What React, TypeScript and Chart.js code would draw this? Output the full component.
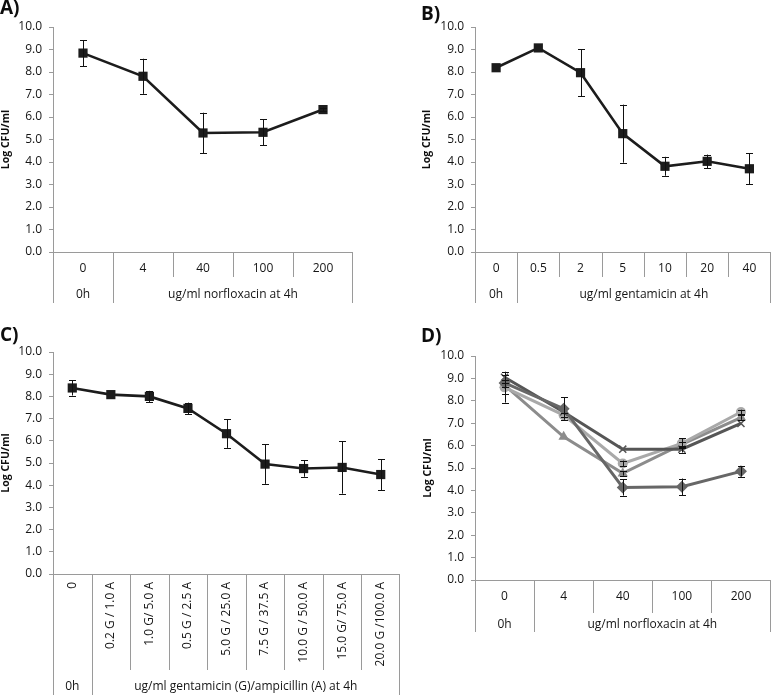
import React, { useEffect, useRef } from "react";
import { Chart, registerables } from "chart.js";
Chart.register(...registerables);

const W = 777;
const H = 695;
const FONT = "'Open Sans', 'DejaVu Sans', sans-serif";

// ---------- Data ----------
const catsA = ["0", "4", "40", "100", "200"];
const groupsA = ["0h", "ug/ml norfloxacin at 4h"];
const spansA = [1, 4];
const valsA = [8.84, 7.81, 5.29, 5.32, 6.33];
const errA = [0.58, 0.78, 0.9, 0.58, 0.08];

const catsB = ["0", "0.5", "2", "5", "10", "20", "40"];
const groupsB = ["0h", "ug/ml gentamicin at 4h"];
const spansB = [1, 6];
const valsB = [8.19, 9.07, 7.97, 5.26, 3.81, 4.03, 3.7];
const errB = [0.05, 0.05, 1.05, 1.29, 0.42, 0.3, 0.69];

const catsC = [
  "0",
  "0.2 G / 1.0 A",
  "1.0 G/ 5.0 A",
  "0.5 G / 2.5 A",
  "5.0 G / 25.0 A",
  "7.5 G / 37.5 A",
  "10.0 G / 50.0 A",
  "15.0 G/ 75.0 A",
  "20.0 G /100.0 A",
];
const groupsC = ["0h", "ug/ml gentamicin (G)/ampicillin (A) at 4h"];
const spansC = [1, 8];
const valsC = [8.38, 8.08, 8.0, 7.46, 6.32, 4.95, 4.75, 4.8, 4.48];
const errC = [0.34, 0.05, 0.25, 0.26, 0.64, 0.89, 0.37, 1.18, 0.7];

const catsD = ["0", "4", "40", "100", "200"];
const groupsD = ["0h", "ug/ml norfloxacin at 4h"];
const spansD = [1, 4];
const dDiamond = [8.8, 7.65, 4.13, 4.16, 4.85];
const dDiamondErr = [0.5, 0.5, 0.36, 0.37, 0.23];
const dCross = [9.05, 7.5, 5.84, 5.84, 6.99];
const dCrossErr = [0.1, 0.05, 0.05, 0.15, 0.05];
const dCircle = [8.6, 7.36, 5.2, 6.1, 7.5];
const dCircleErr = [0.68, 0.1, 0.13, 0.22, 0.1];
const dTri = [8.7, 6.39, 4.76, 6.05, 7.25];
const dTriErr = [0.1, 0.05, 0.1, 0.1, 0.1];

// ---------- Panel layout ----------
type Series = {
  values: number[];
  errors: number[];
  color: string;
  style: string;
  radius: number;
  lineWidth: number;
  pointBorder: number;
};
type Panel = {
  id: string;
  letter: string;
  letterX: number;
  letterY: number;
  cats: string[];
  groups: string[];
  spans: number[];
  series: Series[];
  axisX: number;
  titleLeft: number;
  top: number;
  right: number;
  bottom: number;
  row1Text: number;
  row1Line: number;
  row2Text: number;
  rowEnd: number;
  rotated: boolean;
};

const BLACK = "#1c1c1c";
const blackSeries = (values: number[], errors: number[]): Series => ({
  values,
  errors,
  color: BLACK,
  style: "rect",
  radius: 6.5,
  lineWidth: 2.6,
  pointBorder: 0,
});

const panels: Panel[] = [
  {
    id: "A", letter: "A)", letterX: 0, letterY: 9,
    cats: catsA, groups: groupsA, spans: spansA,
    series: [blackSeries(valsA, errA)],
    axisX: 53, titleLeft: 0, top: 27, right: 353, bottom: 252,
    row1Text: 17, row1Line: 25, row2Text: 43, rowEnd: 51, rotated: false,
  },
  {
    id: "B", letter: "B)", letterX: 421, letterY: 15,
    cats: catsB, groups: groupsB, spans: spansB,
    series: [blackSeries(valsB, errB)],
    axisX: 475, titleLeft: 421, top: 27, right: 776, bottom: 252,
    row1Text: 17, row1Line: 25, row2Text: 43, rowEnd: 51, rotated: false,
  },
  {
    id: "C", letter: "C)", letterX: 0, letterY: 336,
    cats: catsC, groups: groupsC, spans: spansC,
    series: [blackSeries(valsC, errC)],
    axisX: 53, titleLeft: 0, top: 352, right: 400, bottom: 574,
    row1Text: 8, row1Line: 96, row2Text: 113, rowEnd: 121, rotated: true,
  },
  {
    id: "D", letter: "D)", letterX: 421, letterY: 337,
    cats: catsD, groups: groupsD, spans: spansD,
    series: [
      { values: dDiamond, errors: dDiamondErr, color: "#676767", style: "rectRot", radius: 6, lineWidth: 3, pointBorder: 0 },
      { values: dCross, errors: dCrossErr, color: "#565656", style: "crossRot", radius: 5, lineWidth: 3, pointBorder: 1.5 },
      { values: dCircle, errors: dCircleErr, color: "#a9a9a9", style: "circle", radius: 5, lineWidth: 3, pointBorder: 0 },
      { values: dTri, errors: dTriErr, color: "#8c8c8c", style: "triangle", radius: 6, lineWidth: 3, pointBorder: 0 },
    ],
    axisX: 475, titleLeft: 422, top: 356, right: 776, bottom: 580,
    row1Text: 17, row1Line: 33, row2Text: 45, rowEnd: 52, rotated: false,
  },
];

const GRID = "#9a9a9a";
const TEXT = "#151515";

function makePlugin(p: Panel) {
  return {
    id: "decor" + p.id,
    afterDatasetsDraw(chart: any) {
      const ctx = chart.ctx;
      const xs = chart.scales.x;
      const ys = chart.scales.y;
      ctx.save();
      ctx.strokeStyle = "#111";
      ctx.lineWidth = 1;
      p.series.forEach((s) => {
        s.values.forEach((v, i) => {
          const e = s.errors[i];
          if (!e || e < 0.07) return;
          const px = Math.round(xs.getPixelForValue(i)) + 0.5;
          const y1 = ys.getPixelForValue(v + e);
          const y2 = ys.getPixelForValue(v - e);
          ctx.beginPath();
          ctx.moveTo(px, y1);
          ctx.lineTo(px, y2);
          ctx.moveTo(px - 3.5, Math.round(y1) + 0.5);
          ctx.lineTo(px + 3.5, Math.round(y1) + 0.5);
          ctx.moveTo(px - 3.5, Math.round(y2) + 0.5);
          ctx.lineTo(px + 3.5, Math.round(y2) + 0.5);
          ctx.stroke();
        });
      });
      ctx.restore();
    },
    afterDraw(chart: any) {
      const ctx = chart.ctx;
      const xs = chart.scales.x;
      const area = chart.chartArea;
      const n = p.cats.length;
      const base = area.bottom;
      ctx.save();
      // axis line and boundaries
      ctx.strokeStyle = GRID;
      ctx.lineWidth = 1;
      ctx.beginPath();
      ctx.moveTo(area.left, Math.round(base) + 0.5);
      ctx.lineTo(area.right, Math.round(base) + 0.5);
      const edges: number[] = [0];
      let acc = 0;
      p.spans.forEach((s) => {
        acc += s;
        edges.push(acc);
      });
      for (let k = 0; k <= n; k++) {
        const bx = Math.round(xs.getPixelForValue(k - 0.5)) + (k === n ? -0.5 : 0.5);
        const full = edges.indexOf(k) >= 0;
        ctx.moveTo(bx, base);
        ctx.lineTo(bx, base + (full ? p.rowEnd : p.row1Line));
      }
      ctx.stroke();

      // category labels
      ctx.fillStyle = TEXT;
      ctx.font = `12px ${FONT}`;
      p.cats.forEach((c, i) => {
        const cx = xs.getPixelForValue(i);
        if (p.rotated) {
          ctx.save();
          ctx.translate(cx, base + p.row1Text);
          ctx.rotate(-Math.PI / 2);
          ctx.textAlign = "right";
          ctx.textBaseline = "middle";
          ctx.fillText(c, 0, 0);
          ctx.restore();
        } else {
          ctx.textAlign = "center";
          ctx.textBaseline = "middle";
          ctx.fillText(c, cx, base + p.row1Text);
        }
      });

      // group labels
      ctx.textAlign = "center";
      ctx.textBaseline = "middle";
      let start = 0;
      p.groups.forEach((g, gi) => {
        const end = start + p.spans[gi];
        const x0 = xs.getPixelForValue(start - 0.5);
        const x1 = xs.getPixelForValue(end - 0.5);
        ctx.fillText(g, (x0 + x1) / 2, base + p.row2Text);
        start = end;
      });

      // panel letter
      ctx.fillStyle = "#0d0d0d";
      ctx.font = `bold 19px ${FONT}`;
      ctx.textAlign = "left";
      ctx.textBaseline = "middle";
      ctx.fillText(p.letter, p.letterX, p.letterY);
      ctx.restore();
    },
  };
}

function PanelChart({ p }: { p: Panel }) {
  const ref = useRef<HTMLCanvasElement | null>(null);
  useEffect(() => {
    if (!ref.current) return;
    const chart = new Chart(ref.current, {
      type: "line",
      data: {
        labels: p.cats,
        datasets: p.series.map((s) => ({
          data: s.values,
          borderColor: s.color,
          backgroundColor: s.color,
          borderWidth: s.lineWidth,
          pointStyle: s.style as any,
          pointRadius: s.radius,
          pointHoverRadius: s.radius,
          pointBorderWidth: s.pointBorder,
          pointBackgroundColor: s.color,
          pointBorderColor: s.color,
          tension: 0,
          clip: false as any,
        })),
      },
      options: {
        responsive: false,
        animation: false,
        events: [],
        layout: {
          padding: { left: p.titleLeft, top: p.top, right: W - p.right, bottom: H - p.bottom },
        },
        plugins: { legend: { display: false }, tooltip: { enabled: false } },
        scales: {
          x: { type: "category", display: false, offset: true },
          y: {
            min: 0,
            max: 10,
            ticks: {
              stepSize: 1,
              padding: 7,
              color: TEXT,
              font: { family: FONT, size: 12 },
              callback: (v: any) => Number(v).toFixed(1),
            },
            grid: { drawOnChartArea: false, tickLength: 4, color: GRID },
            border: { color: GRID },
            title: {
              display: true,
              text: "Log CFU/ml",
              color: "#0d0d0d",
              font: { family: FONT, size: 10.5, weight: "bold" },
              padding: { top: 0, bottom: 0 },
            },
            afterFit: (scale: any) => {
              scale.width = p.axisX - p.titleLeft;
            },
          },
        },
      } as any,
      plugins: [makePlugin(p)],
    });
    return () => chart.destroy();
  }, [p]);
  return (
    <canvas
      ref={ref}
      width={W}
      height={H}
      style={{ position: "absolute", left: 0, top: 0, width: W, height: H }}
    />
  );
}

export default function App() {
  return (
    <div
      style={{
        position: "absolute",
        left: 0,
        top: 0,
        width: W,
        height: H,
        background: "#fff",
        overflow: "hidden",
      }}
    >
      {panels.map((p) => (
        <PanelChart key={p.id} p={p} />
      ))}
    </div>
  );
}
